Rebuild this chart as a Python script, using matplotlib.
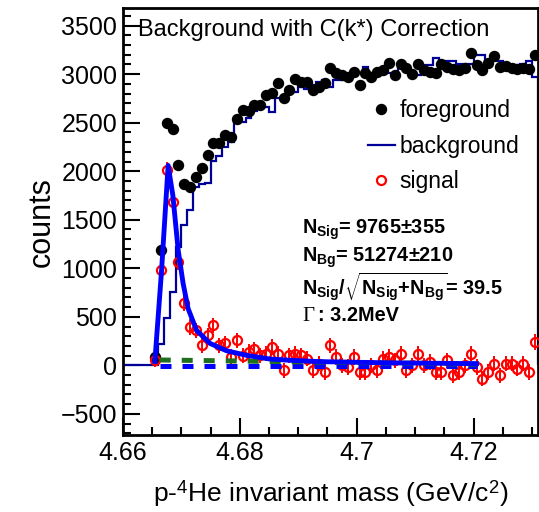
import numpy as np
import matplotlib
matplotlib.use('Agg')
from matplotlib import pyplot as plt
from matplotlib.lines import Line2D
from matplotlib.ticker import MultipleLocator, FuncFormatter

plt.rcParams['font.family'] = ['Liberation Sans', 'DejaVu Sans']
plt.rcParams['mathtext.fontset'] = 'custom'
plt.rcParams['mathtext.rm'] = 'Liberation Serif'
plt.rcParams['mathtext.sf'] = 'Liberation Sans'
plt.rcParams['mathtext.bf'] = 'Liberation Sans:bold'
plt.rcParams['mathtext.default'] = 'rm'

# bin centres (1 MeV bins)
mass = np.round(np.arange(4.6655, 4.7310, 0.001), 4)

foreground = [90, 1186, 2495, 2433, 2062, 1866, 1835, 1938, 2031, 2165,
              2289, 2289, 2371, 2351, 2536, 2629, 2619, 2681, 2681, 2784,
              2804, 2907, 2753, 2835, 2949, 2918, 2918, 2835, 2866, 2907,
              3062, 3010, 2990, 2969, 3021, 2887, 3010, 2969, 3021, 3041,
              3114, 2990, 3110, 3060, 3000, 3110, 3040, 3020, 3010, 3100,
              3070, 3050, 3040, 3060, 3220, 3090, 3040, 3120, 3190, 3070,
              3080, 3060, 3050, 3060, 3050, 3200]

background = [0, 216, 484, 753, 1217, 1443, 1598, 1835, 1866, 1876,
              2103, 2155, 2248, 2299, 2557, 2505, 2546, 2619, 2660, 2660,
              2610, 2753, 2763, 2815, 2815, 2866, 2850, 2887, 2918, 2938,
              2866, 2938, 2938, 2990, 2980, 3010, 3072, 3010, 3020, 3010,
              3010, 2990, 3060, 3060, 2990, 2990, 3090, 3090, 3170, 3100,
              3140, 3140, 3110, 3100, 3100, 3200, 3200, 3110, 3200, 3140,
              3090, 3090, 3090, 3100, 3140, 2970]

signal = [60, 980, 2010, 1680, 1065, 640, 395, 361, 206, 309,
          412, 206, 227, 86, 258, 100, 137, 165, 103, 120,
          189, 120, -52, 103, 120, 103, 69, -52, 17, -69,
          206, 86, 0, -17, 86, -69, -69, 0, -52, 69,
          86, 50, 120, -52, 0, 120, 0, 34, -69, -69,
          52, -103, -69, 0, 120, -17, -137, -69, 17, -103,
          17, 17, -34, 17, -69, 240]
signal_err = 80

# fit curve
fit_x = [4.66547, 4.66662, 4.66774, 4.66855, 4.66945, 4.6703, 4.67116,
         4.6726, 4.67487, 4.67773, 4.68115, 4.68513, 4.68855, 4.69368,
         4.70508, 4.71932, 4.7205]
fit_y = [40, 980, 2060, 1750, 1190, 845, 584, 361, 227, 150, 103, 65,
         52, 38, 26, 18, 17]

# residual background lines
green_x = [4.6663, 4.7205]
green_y = [55, 12]
blue_x = [4.6663, 4.7205]
blue_y = [-5, -5]

fig = plt.figure(figsize=(5.39, 5.12), dpi=100)
ax = fig.add_axes([0.228, 0.150, 0.770, 0.834])

ax.plot(mass, foreground, 'o', color='black', ms=7.2, zorder=3)

edges = np.round(np.arange(4.660, 4.7315, 0.001), 4)
bg_full = np.concatenate([np.zeros(5), background])
ax.stairs(bg_full, edges, color='#000099', lw=1.6, zorder=2)

ax.errorbar(mass, signal, yerr=signal_err, fmt='o', color='red', mfc='none',
            mec='red', ms=6.5, mew=1.6, elinewidth=1.4, capsize=0, zorder=4)

ax.plot(blue_x, blue_y, color='#0000ff', lw=3.6, dashes=(2.2, 2.2), zorder=5)
ax.plot(green_x, green_y, color='#1f6f1f', lw=3.6, dashes=(2.2, 2.2), zorder=6)
ax.plot(fit_x, fit_y, color='#0000ff', lw=3.5, zorder=7)

ax.set_xlim(4.66, 4.731)
ax.set_ylim(-720, 3680)

ax.xaxis.set_major_locator(MultipleLocator(0.02))
ax.xaxis.set_minor_locator(MultipleLocator(0.005))
ax.yaxis.set_major_locator(MultipleLocator(500))
ax.yaxis.set_minor_locator(MultipleLocator(100))
ax.xaxis.set_major_formatter(FuncFormatter(lambda v, p: '%g' % round(v, 3)))
ax.tick_params(which='both', direction='in', top=False, right=False,
               width=1.5, labelsize=18)
ax.tick_params(which='major', length=12)
ax.tick_params(which='minor', length=6)
ax.tick_params(axis='x', pad=4)
ax.tick_params(axis='y', pad=4)
for s in ax.spines.values():
    s.set_linewidth(2)

ax.set_ylabel('counts', fontsize=22)
ax.yaxis.set_label_coords(-0.16, 0.50)
ax.set_xlabel('p-$^{\\mathsf{4}}$He invariant mass (GeV/c$^{\\mathsf{2}}$)',
              fontsize=19)
ax.xaxis.set_label_coords(0.5, -0.10)

ax.text(0.036, 0.948, 'Background with C(k*) Correction', transform=ax.transAxes,
        fontsize=17, va='center', ha='left')

handles = [
    Line2D([], [], marker='o', ls='none', color='black', ms=7.2),
    Line2D([], [], color='#000099', lw=1.6),
    Line2D([], [], marker='o', ls='none', mfc='none', mec='red', ms=6.5, mew=1.6),
]
ax.legend(handles, ['foreground', 'background', 'signal'], loc='upper left',
          bbox_to_anchor=(0.54, 0.835), frameon=False, fontsize=16.5,
          handlelength=1.2, handletextpad=0.2, labelspacing=0.55)

stats = [r'$\mathbf{N_{Sig}}$= 9765±355',
         r'$\mathbf{N_{Bg}}$= 51274±210',
         r'$\mathbf{N_{Sig}/\sqrt{N_{Sig}{+}N_{Bg}}}$= 39.5']
ypos = [0.480, 0.415, 0.347]
for t, yy in zip(stats, ypos):
    ax.text(0.431, yy, t, transform=ax.transAxes, fontsize=14.3,
            fontweight='bold', va='center', ha='left')
ax.text(0.431, 0.281, r'$\Gamma$', transform=ax.transAxes, fontsize=15,
        va='center', ha='left')
ax.text(0.470, 0.281, ': 3.2MeV', transform=ax.transAxes, fontsize=14.3,
        fontweight='bold', va='center', ha='left')

fig.savefig('out.png', dpi=100)
